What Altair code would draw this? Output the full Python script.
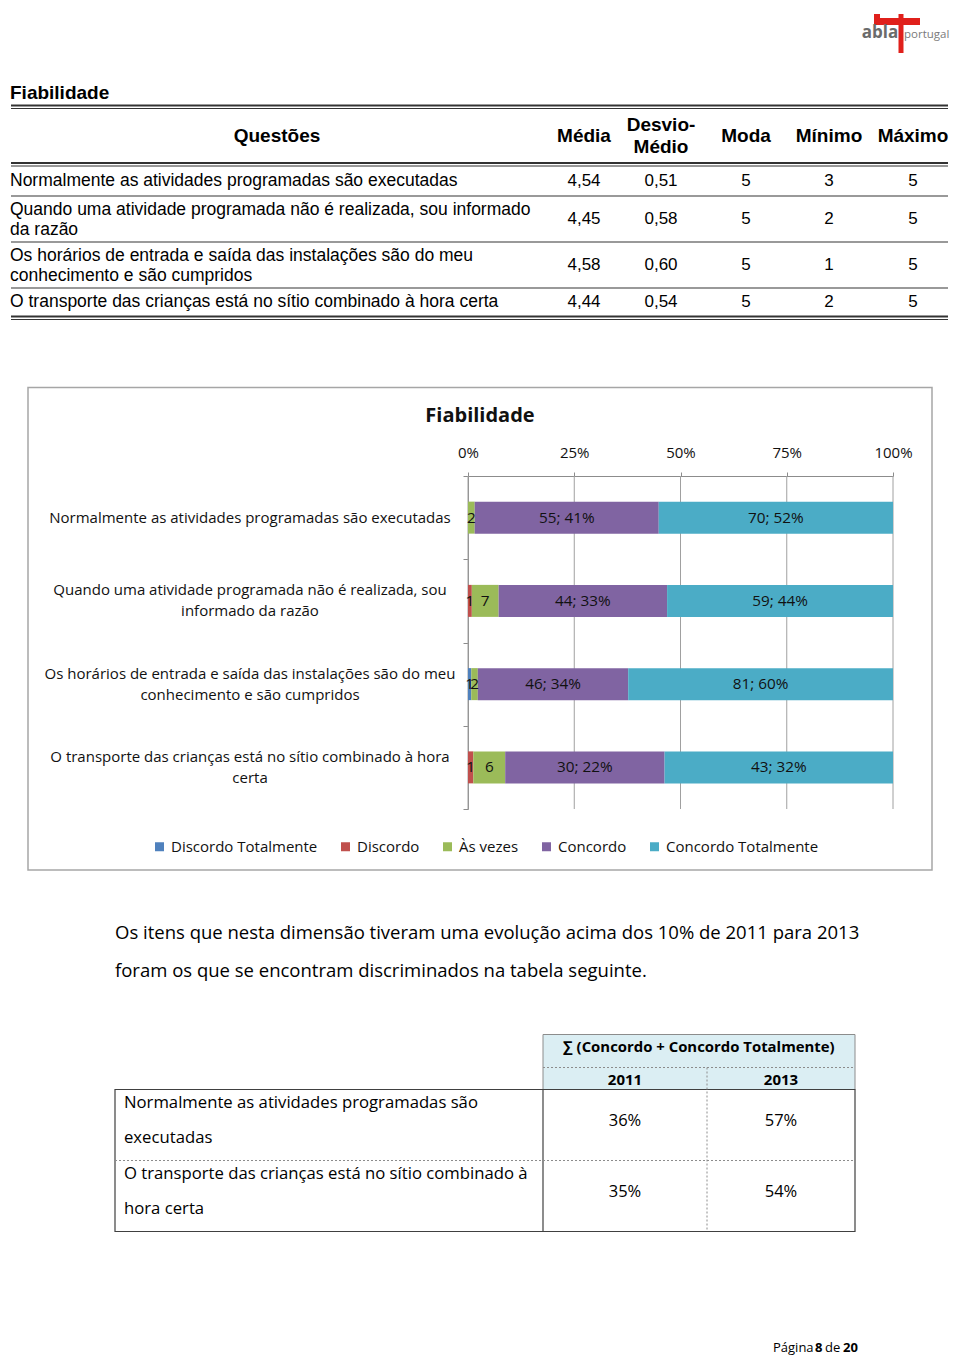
import altair as alt
import pandas as pd

# ------------------------------------------------------------------ data
table_title = "Fiabilidade"
table_headers = ["Questões", "Média", "Desvio-\nMédio", "Moda", "Mínimo", "Máximo"]
table_questions = [
    "Normalmente as atividades programadas são executadas",
    "Quando uma atividade programada não é realizada, sou informado\nda razão",
    "Os horários de entrada e saída das instalações são do meu\nconhecimento e são cumpridos",
    "O transporte das crianças está no sítio combinado à hora certa",
]
media = ["4,54", "4,45", "4,58", "4,44"]
desvio_medio = ["0,51", "0,58", "0,60", "0,54"]
moda = ["5", "5", "5", "5"]
minimo = ["3", "2", "1", "2"]
maximo = ["5", "5", "5", "5"]

chart_title = "Fiabilidade"
chart_questions = [
    "Normalmente as atividades programadas são executadas",
    "Quando uma atividade programada não é realizada, sou\ninformado da razão",
    "Os horários de entrada e saída das instalações são do meu\nconhecimento e são cumpridos",
    "O transporte das crianças está no sítio combinado à hora\ncerta",
]
categories = ["Discordo Totalmente", "Discordo", "Às vezes", "Concordo", "Concordo Totalmente"]
discordo_totalmente = [0, 0, 1, 0]
discordo = [0, 1, 0, 1]
as_vezes = [2, 7, 2, 6]
concordo = [55, 44, 46, 30]
concordo_totalmente = [70, 59, 81, 43]
concordo_pct = [41, 33, 34, 22]
concordo_totalmente_pct = [52, 44, 60, 32]
axis_ticks = [0, 0.25, 0.5, 0.75, 1]

paragraph = [
    "Os itens que nesta dimensão tiveram uma evolução acima dos 10% de 2011 para 2013",
    "foram os que se encontram discriminados na tabela seguinte.",
]
evo_header = "∑ (Concordo + Concordo Totalmente)"
evo_years = ["2011", "2013"]
evo_items = [
    "Normalmente as atividades programadas são\nexecutadas",
    "O transporte das crianças está no sítio combinado à\nhora certa",
]
evo_2011 = ["36%", "35%"]
evo_2013 = ["57%", "54%"]
footer_regular = ["Página", "de"]
footer_bold = ["8", "20"]
logo_words = ["abla", "portugal"]

# ------------------------------------------------------------------ styles / layout
colors = ["#4F81BD", "#C0504D", "#9BBB59", "#8064A2", "#4BACC6"]
ARIAL = "Liberation Sans"
SANS = "Open Sans"
W = 944

col_x = [269, 576, 653, 738, 821, 905]      # table column centres
hdr_y = [128, 128, 117, 128, 128, 128]      # header first-line positions
q_first_line_y = [173, 202, 248, 294]       # question first-line positions
row_y = [173, 211, 257, 294]                # table row centres
evo_first_line_y = [231.5, 302.5]
evo_row_y = [249.5, 320.5]
evo_col_x = [617, 773]


def px(field):
    return dict(field=field, type="quantitative", scale=None, axis=None)


def texts(df, **kw):
    return alt.Chart(df).mark_text(lineBreak="\n", **kw).encode(
        x=alt.X(**px("x")), y=alt.Y(**px("y")), text="t:N")


def rules(df, **kw):
    return alt.Chart(df).mark_rule(**kw).encode(
        x=alt.X(**px("x")), x2="x2:Q", y=alt.Y(**px("y")), y2="y2:Q",
        strokeWidth=alt.StrokeWidth("w:Q", scale=None),
        color=alt.Color("c:N", scale=None))


# ------------------------------------------------------------------ panel 1 : header + table
logo_bars = pd.DataFrame({
    "x": [866, 893, 869], "x2": [912, 893, 869], "y": [13.5, 6, 6], "y2": [13.5, 45, 14],
    "w": [7, 5, 6], "c": ["#E0201B"] * 3})
logo_txt1 = texts(pd.DataFrame({"x": [872], "y": [25], "t": [logo_words[0]]}),
                  font=SANS, fontSize=17, fontWeight="bold", color="#6b6b6b", align="center", baseline="middle")
logo_txt2 = texts(pd.DataFrame({"x": [896], "y": [27], "t": [logo_words[1]]}),
                  font=SANS, fontSize=11.5, color="#7a7a7a", align="left", baseline="middle")

top_rules = pd.DataFrame({
    "x": [3] * 9, "x2": [W - 4] * 9,
    "y": [97.5, 100.5, 155, 158, 188, 234, 280, 308.5, 311.5],
    "w": [2, 1, 2, 1, 1.5, 1.5, 1.5, 2, 1],
    "c": ["#333", "#333", "#333", "#333", "#777", "#777", "#777", "#333", "#333"]})
top_rules["y2"] = top_rules["y"]

title_t = texts(pd.DataFrame({"x": [2], "y": [85], "t": [table_title]}),
                font=ARIAL, fontSize=19, fontWeight="bold", color="#000", align="left", baseline="middle")
hdr = texts(pd.DataFrame({"x": col_x, "y": hdr_y, "t": table_headers}),
            font=ARIAL, fontSize=19, fontWeight="bold", color="#000", align="center",
            baseline="middle", lineHeight=22)
q_t = texts(pd.DataFrame({"x": [2] * 4, "y": q_first_line_y, "t": table_questions}),
            font=ARIAL, fontSize=17.5, color="#000", align="left", baseline="middle", lineHeight=20)
cells = []
for j, col in enumerate([media, desvio_medio, moda, minimo, maximo]):
    for i, v in enumerate(col):
        cells.append({"x": col_x[j + 1], "y": row_y[i], "t": v})
val_t = texts(pd.DataFrame(cells), font=ARIAL, fontSize=17, color="#000", align="center", baseline="middle")

panel1 = alt.layer(
    rules(logo_bars), logo_txt1, logo_txt2, rules(top_rules), title_t, hdr, q_t, val_t
).properties(width=W, height=378)

# ------------------------------------------------------------------ panel 2 : stacked bar chart
series = [discordo_totalmente, discordo, as_vezes, concordo, concordo_totalmente]
pcts = {3: concordo_pct, 4: concordo_totalmente_pct}
recs = []
for qi, q in enumerate(chart_questions):
    for ci, cat in enumerate(categories):
        n = series[ci][qi]
        lab = f"{n}; {pcts[ci][qi]}%" if ci in pcts else str(n)
        recs.append({"q": q, "cat": cat, "ord": ci, "n": n, "label": lab})
bars_df = pd.DataFrame(recs)

PW, PH = 924, 484           # panel size; frame spans x 20..924, y 1.5..484
PX0, PX1 = 460, 885         # plot x range
PY0, PY1 = 90, 423          # plot y range

base = alt.Chart(bars_df).transform_filter("datum.n > 0").transform_stack(
    stack="n", groupby=["q"], as_=["n0", "n1"], offset="normalize",
    sort=[alt.SortField("ord", order="ascending")]
).transform_calculate(mid="(datum.n0 + datum.n1) / 2")

xscale = alt.Scale(domain=[0, 1], range=[PX0, PX1], nice=False, zero=True)
yscale = alt.Scale(domain=chart_questions, range=[PY0, PY1], paddingInner=0, paddingOuter=0)
xaxis = alt.Axis(orient="top", offset=-PY0, values=axis_ticks, format=".0%", title=None,
                 labelFont=SANS, labelFontSize=15, labelColor="#111", labelFlush=False,
                 labelPadding=12, tickSize=4, tickColor="#8c8c8c", domainColor="#8c8c8c", grid=False)
yaxis = alt.Axis(orient="left", offset=-PX0, title=None, labels=False, domainColor="#8c8c8c",
                 tickColor="#8c8c8c", tickSize=5, tickBand="extent", grid=False)

grid = alt.Chart(pd.DataFrame({"v": axis_ticks})).mark_rule(color="#a0a0a0", strokeWidth=1).encode(
    x=alt.X("v:Q", scale=xscale, axis=xaxis), y=alt.value(PY0), y2=alt.value(PY1))

bars = base.mark_bar(size=32).encode(
    y=alt.Y("q:N", sort=chart_questions, scale=yscale, axis=yaxis),
    x=alt.X("n0:Q", scale=xscale, axis=xaxis),
    x2="n1:Q",
    color=alt.Color("cat:N", scale=alt.Scale(domain=categories, range=colors),
                    legend=alt.Legend(orient="none", legendX=144, legendY=453, direction="horizontal",
                                      title=None, symbolType="square", symbolSize=81,
                                      symbolStrokeWidth=0, labelFont=SANS, labelFontSize=15,
                                      labelColor="#111", columnPadding=20, labelOffset=4, padding=0)),
)
bar_labels = base.mark_text(font=SANS, fontSize=15.3, color="#111", align="center", baseline="middle").encode(
    y=alt.Y("q:N", sort=chart_questions, scale=yscale, axis=yaxis),
    x=alt.X("mid:Q", scale=xscale, axis=xaxis),
    text="label:N",
)
ylab_base = alt.Chart(pd.DataFrame({"q": chart_questions}))
ylab_kw = dict(font=SANS, fontSize=15, color="#111", align="center", baseline="middle",
               lineBreak="\n", lineHeight=21)
y_labels_1 = ylab_base.transform_filter("indexof(datum.q, '\\n') < 0").mark_text(**ylab_kw).encode(
    y=alt.Y("q:N", sort=chart_questions, scale=yscale, axis=yaxis), x=alt.value(242), text="q:N")
y_labels_2 = ylab_base.transform_filter("indexof(datum.q, '\\n') >= 0").mark_text(dy=-10.5, **ylab_kw).encode(
    y=alt.Y("q:N", sort=chart_questions, scale=yscale, axis=yaxis), x=alt.value(242), text="q:N")

one = pd.DataFrame({"t": [chart_title]})
frame = alt.Chart(one).mark_rect(fillOpacity=0, stroke="#a6a6a6", strokeWidth=1.5).encode(
    x=alt.value(20), x2=alt.value(PW), y=alt.value(1.5), y2=alt.value(PH))
ctitle = alt.Chart(one).mark_text(font=SANS, fontSize=20, fontWeight="bold", color="#111",
                                  align="center", baseline="middle").encode(
    x=alt.value(472), y=alt.value(30), text="t:N")

panel2 = alt.layer(frame, grid, bars, bar_labels, y_labels_1, y_labels_2, ctitle).properties(
    width=PW, height=PH)

# ------------------------------------------------------------------ panel 3 : text + table + footer
para = texts(pd.DataFrame({"x": [107, 107], "y": [61.5, 99.5], "t": paragraph}),
             font=SANS, fontSize=18.5, color="#000", align="left", baseline="middle")

hdr_rect = alt.Chart(pd.DataFrame({"x": [535], "x2": [847], "y": [163.5], "y2": [218.5]})).mark_rect(
    fill="#DBEEF3", stroke="#8c8c8c", strokeWidth=1).encode(
    x=alt.X(**px("x")), x2="x2:Q", y=alt.Y(**px("y")), y2="y2:Q")
body_rect = alt.Chart(pd.DataFrame({"x": [107], "x2": [847], "y": [218.5], "y2": [360.5]})).mark_rect(
    fillOpacity=0, stroke="#404040", strokeWidth=1.2).encode(
    x=alt.X(**px("x")), x2="x2:Q", y=alt.Y(**px("y")), y2="y2:Q")
solid = pd.DataFrame({"x": [535], "x2": [535], "y": [218.5], "y2": [360.5], "w": [1.2], "c": ["#404040"]})
dotted = pd.DataFrame({"x": [535, 699, 107], "x2": [847, 699, 847], "y": [196.5, 196.5, 289.5],
                       "y2": [196.5, 360.5, 289.5], "w": [1, 1, 1], "c": ["#8c8c8c"] * 3})

evo_h = texts(pd.DataFrame({"x": [691], "y": [176.5], "t": [evo_header]}),
              font=SANS, fontSize=14.9, fontWeight="bold", color="#000", align="center", baseline="middle")
evo_y = texts(pd.DataFrame({"x": evo_col_x, "y": [208.5, 208.5], "t": evo_years}),
              font=SANS, fontSize=15, fontWeight="bold", color="#000", align="center", baseline="middle")
evo_i = texts(pd.DataFrame({"x": [116, 116], "y": evo_first_line_y, "t": evo_items}),
              font=SANS, fontSize=16.7, color="#000", align="left", baseline="middle", lineHeight=35)
evo_cells = []
for j, col in enumerate([evo_2011, evo_2013]):
    for i, v in enumerate(col):
        evo_cells.append({"x": evo_col_x[j], "y": evo_row_y[i], "t": v})
evo_v = texts(pd.DataFrame(evo_cells), font=SANS, fontSize=16.5, color="#000", align="center", baseline="middle")

foot_r = texts(pd.DataFrame({"x": [765, 817], "y": [477, 477], "t": footer_regular}),
               font=SANS, fontSize=13, color="#000", align="left", baseline="middle")
foot_b = texts(pd.DataFrame({"x": [807, 835], "y": [477, 477], "t": footer_bold}),
               font=SANS, fontSize=13, fontWeight="bold", color="#000", align="left", baseline="middle")

panel3 = alt.layer(
    para, hdr_rect, body_rect, rules(solid), rules(dotted, strokeDash=[2, 2]),
    evo_h, evo_y, evo_i, evo_v, foot_r, foot_b
).properties(width=W, height=485)

chart = alt.vconcat(panel1, panel2, panel3, spacing=0).properties(padding=0).configure_view(
    strokeWidth=0).resolve_scale(color="independent")

chart.save("out.html", embed_options={"renderer": "svg", "actions": False})
